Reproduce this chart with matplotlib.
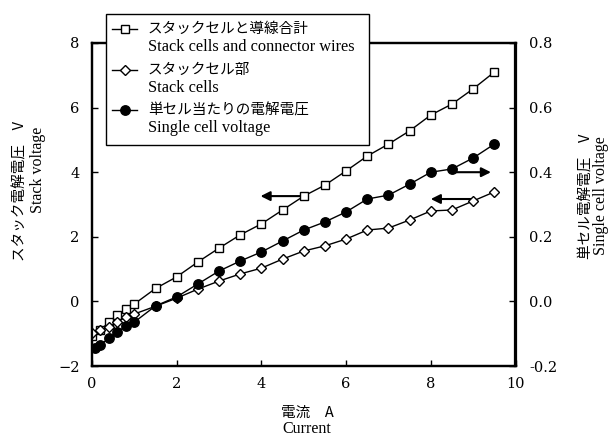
import numpy as np
import matplotlib
matplotlib.use("Agg")
import matplotlib.pyplot as plt
from matplotlib.lines import Line2D
from matplotlib.patches import Rectangle

plt.rcParams['font.family'] = ['DejaVu Serif']
plt.rcParams['axes.unicode_minus'] = True

# data
current = [0, 0.2, 0.4, 0.6, 0.8, 1.0, 1.5, 2.0, 2.5, 3.0, 3.5, 4.0, 4.5,
           5.0, 5.5, 6.0, 6.5, 7.0, 7.5, 8.0, 8.5, 9.0, 9.5]
current_cell = [0.08] + current[1:]
stack_wires = [-1.07, -0.89, -0.64, -0.42, -0.24, -0.08, 0.40, 0.76, 1.22, 1.65,
               2.06, 2.40, 2.83, 3.26, 3.60, 4.04, 4.50, 4.87, 5.28, 5.77,
               6.11, 6.58, 7.10]
stack_cells = [-0.98, -0.89, -0.79, -0.64, -0.48, -0.39, -0.15, 0.10, 0.38, 0.63,
               0.85, 1.03, 1.31, 1.56, 1.72, 1.93, 2.21, 2.27, 2.52, 2.80,
               2.83, 3.11, 3.39]
single_cell = [-0.144, -0.135, -0.113, -0.095, -0.076, -0.064, -0.014, 0.014,
               0.054, 0.094, 0.125, 0.153, 0.187, 0.221, 0.246, 0.277, 0.317,
               0.329, 0.363, 0.400, 0.410, 0.444, 0.487]

legend_jp = ['スタックセルと導線合計', 'スタックセル部', '単セル当たりの電解電圧']
legend_en = ['Stack cells and connector wires', 'Stack cells', 'Single cell voltage']

W, H = 608, 437
fig = plt.figure(figsize=(W / 100, H / 100), dpi=100)

def fx(px):
    return px / W

def fy(py):
    return 1 - py / H

ax = fig.add_axes([fx(92), fy(366), fx(515.5) - fx(92), fy(43) - fy(366)])
ax2 = ax.twinx()

ax.plot(current, stack_wires, color='k', lw=1.0, marker='s', ms=6,
        mfc='white', mec='k', mew=1.0, zorder=3)
ax.plot(current, stack_cells, color='k', lw=1.0, marker='D', ms=5.6,
        mfc='white', mec='k', mew=1.0, zorder=3)
ax2.plot(current_cell, single_cell, color='k', lw=1.0, marker='o', ms=6.8,
         mfc='k', mec='k', zorder=3)

arr = dict(arrowstyle='-|>', color='k', lw=1.5, mutation_scale=14,
           shrinkA=0, shrinkB=0)
ax.annotate('', xy=(3.98, 3.26), xytext=(4.95, 3.26), arrowprops=arr, zorder=1)
ax.annotate('', xy=(8.0, 3.17), xytext=(8.97, 3.17), arrowprops=arr, zorder=1)
ax2.annotate('', xy=(9.42, 0.40), xytext=(8.5, 0.40), arrowprops=arr, zorder=1)

ax.set_xlim(0, 10)
ax.set_ylim(-2, 8)
ax2.set_ylim(-0.2, 0.8)
ax.set_xticks([0, 2, 4, 6, 8, 10])
ax.set_yticks([-2, 0, 2, 4, 6, 8])
ax2.set_yticks([-0.2, 0.0, 0.2, 0.4, 0.6, 0.8])
ax2.set_yticklabels(['%.1f' % v for v in [-0.2, 0.0, 0.2, 0.4, 0.6, 0.8]])

ax.tick_params(axis='both', direction='in', length=4, width=1,
               labelsize=10.5, pad=8, top=False, right=False)
ax.tick_params(axis='y', pad=9)
ax2.tick_params(axis='y', direction='in', length=4, width=1,
                labelsize=10.5, pad=10)
for a in (ax, ax2):
    for s in a.spines.values():
        s.set_linewidth(1.6)

# axis titles
jp = ['Noto Sans CJK JP', 'DejaVu Sans']
en = ['Liberation Serif']
fig.text(fx(20), fy(191), 'スタック電解電圧\u3000V', family=jp, fontsize=10.5,
         rotation=90, ha='center', va='center')
fig.text(fx(38), fy(170), 'Stack voltage', family=en, fontsize=11.5,
         rotation=90, ha='center', va='center')
fig.text(fx(586), fy(196), '単セル電解電圧\u3000V', family=jp, fontsize=10.5,
         rotation=90, ha='center', va='center')
fig.text(fx(601), fy(196), 'Single cell voltage', family=en, fontsize=11.5,
         rotation=90, ha='center', va='center')
fig.text(fx(307), fy(413), '電流\u3000A', family=jp, fontsize=10.5,
         ha='center', va='center')
fig.text(fx(307), fy(429), 'Current', family=en, fontsize=11.5,
         ha='center', va='center')

# legend box drawn by hand
fig.add_artist(Rectangle((fx(106), fy(145)), fx(369) - fx(106), fy(14) - fy(145),
                         transform=fig.transFigure, facecolor='white',
                         edgecolor='k', lw=1.0, zorder=5))
styles = [dict(marker='s', ms=6, mfc='white'),
          dict(marker='D', ms=5.6, mfc='white'),
          dict(marker='o', ms=6.8, mfc='k')]
rows = [29, 70, 110]
for st, row, tj, te in zip(styles, rows, legend_jp, legend_en):
    fig.add_artist(Line2D([fx(112), fx(124.5), fx(137)], [fy(row)] * 3,
                          transform=fig.transFigure, color='k', lw=1.0,
                          mec='k', mew=1.0, markevery=[1], zorder=6, **st))
    fig.text(fx(148), fy(row), tj, family=jp, fontsize=10.5,
             ha='left', va='center', zorder=6)
    fig.text(fx(148), fy(row + 18), te, family=en, fontsize=11.8,
             ha='left', va='center', zorder=6)

fig.savefig('out.png', dpi=100)
